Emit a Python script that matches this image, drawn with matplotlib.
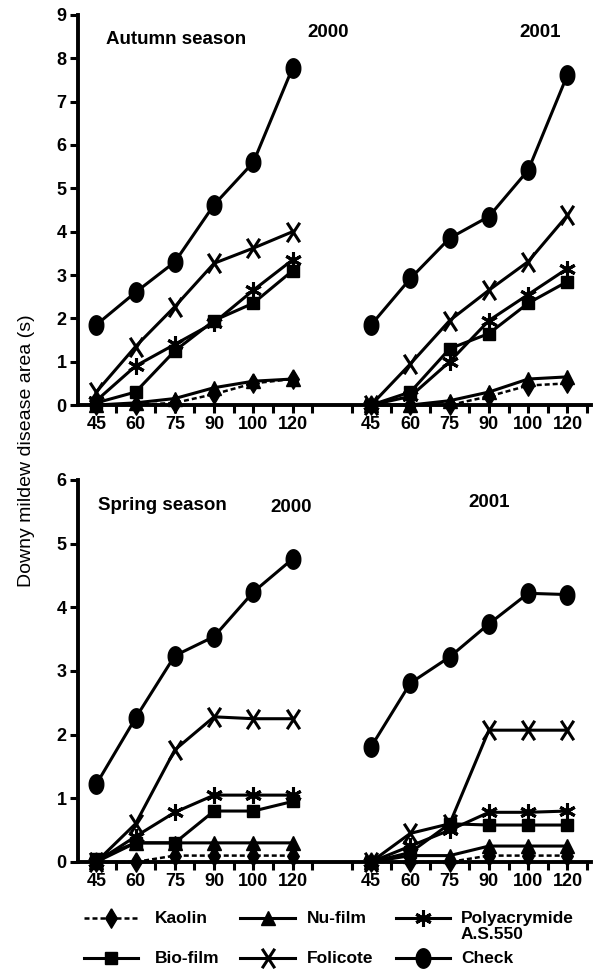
import numpy as np
import matplotlib
matplotlib.use("Agg")
import matplotlib.pyplot as plt
from matplotlib.path import Path
from matplotlib.lines import Line2D

plt.rcParams['font.family'] = ['Liberation Sans', 'DejaVu Sans']

# days after sowing (tick labels) and positions of the two year groups
days = ['45', '60', '75', '90', '100', '120']
pos_2000 = np.arange(6)
pos_2001 = np.arange(6) + 7

# autumn season
kaolin_a00 = [0, 0, 0.05, 0.25, 0.5, 0.6]
nufilm_a00 = [0, 0.05, 0.15, 0.4, 0.55, 0.6]
poly_a00 = [0.1, 0.9, 1.4, 1.9, 2.65, 3.35]
bio_a00 = [0.05, 0.3, 1.25, 1.95, 2.35, 3.1]
folicote_a00 = [0.3, 1.35, 2.27, 3.27, 3.62, 4.0]
check_a00 = [1.85, 2.6, 3.3, 4.62, 5.6, 7.78]

kaolin_a01 = [0, 0, 0, 0.2, 0.45, 0.5]
nufilm_a01 = [0, 0, 0.1, 0.3, 0.6, 0.65]
poly_a01 = [0, 0.2, 1.0, 1.95, 2.55, 3.15]
bio_a01 = [0, 0.3, 1.3, 1.65, 2.35, 2.85]
folicote_a01 = [0, 0.95, 1.95, 2.65, 3.31, 4.38]
check_a01 = [1.85, 2.92, 3.85, 4.35, 5.42, 7.62]

# spring season
kaolin_s00 = [0, 0, 0.1, 0.1, 0.1, 0.1]
nufilm_s00 = [0, 0.3, 0.3, 0.3, 0.3, 0.3]
poly_s00 = [0, 0.4, 0.78, 1.05, 1.05, 1.05]
bio_s00 = [0.05, 0.3, 0.3, 0.8, 0.8, 0.95]
folicote_s00 = [0, 0.6, 1.76, 2.28, 2.25, 2.25]
check_s00 = [1.22, 2.26, 3.24, 3.54, 4.24, 4.76]

kaolin_s01 = [0, 0, 0, 0.1, 0.1, 0.1]
nufilm_s01 = [0, 0.1, 0.1, 0.25, 0.25, 0.25]
poly_s01 = [0, 0.25, 0.5, 0.78, 0.78, 0.8]
bio_s01 = [0, 0.15, 0.6, 0.58, 0.58, 0.58]
folicote_s01 = [0, 0.45, 0.6, 2.07, 2.07, 2.07]
check_s01 = [1.81, 2.81, 3.22, 3.74, 4.22, 4.2]

# marker shapes
t = np.linspace(0, 2 * np.pi, 40)
ellipse = np.column_stack([0.75 * np.cos(t), np.sin(t)])
diamond = np.array([(0, 1), (0.6, 0), (0, -1), (-0.6, 0), (0, 1)])
tall_x = Path([(-0.65, -1), (0.65, 1), (-0.65, 1), (0.65, -1)],
              [Path.MOVETO, Path.LINETO, Path.MOVETO, Path.LINETO])

styles = {
    'Kaolin': dict(marker=diamond, ms=14, ls=(0, (2.0, 1.2)), lw=1.8),
    'Nu-film': dict(marker='^', ms=10.5, ls='-', lw=2.2),
    'Polyacrymide\nA.S.550': dict(marker=(6, 2, 0), ms=12, mew=2.2, ls='-', lw=2.2),
    'Bio-film': dict(marker='s', ms=9, ls='-', lw=2.2),
    'Folicote': dict(marker=tall_x, ms=14, mew=2.2, mfc='none', ls='-', lw=2.2),
    'Check': dict(marker=ellipse, ms=14, ls='-', lw=2.2),
}
names = list(styles)

fig = plt.figure(figsize=(5.94, 9.72), dpi=100)
ax1 = fig.add_axes([0.131, 0.5833, 0.864, 0.4013])
ax2 = fig.add_axes([0.131, 0.1132, 0.864, 0.3930])

top = {2000: [kaolin_a00, nufilm_a00, poly_a00, bio_a00, folicote_a00, check_a00],
       2001: [kaolin_a01, nufilm_a01, poly_a01, bio_a01, folicote_a01, check_a01]}
bottom = {2000: [kaolin_s00, nufilm_s00, poly_s00, bio_s00, folicote_s00, check_s00],
          2001: [kaolin_s01, nufilm_s01, poly_s01, bio_s01, folicote_s01, check_s01]}

for ax, data, ymax in [(ax1, top, 9), (ax2, bottom, 6)]:
    for year, xpos in [(2000, pos_2000), (2001, pos_2001)]:
        for name, vals in zip(names, data[year]):
            st = dict(styles[name])
            mfc = st.pop('mfc', 'black')
            ax.plot(xpos, vals, color='black', mec='black', mfc=mfc,
                    clip_on=False, zorder=3, **st)
    ax.set_xlim(-0.47, 12.6)
    ax.set_ylim(0, ymax)
    ax.set_yticks(range(ymax + 1))
    ax.set_xticks(list(pos_2000) + list(pos_2001))
    ax.set_xticklabels(days + days)
    ax.set_xticks(list(np.arange(0.5, 6, 1)) + list(np.arange(6.5, 13, 1)), minor=True)
    for s in ['top', 'right']:
        ax.spines[s].set_visible(False)
    for s in ['left', 'bottom']:
        ax.spines[s].set_linewidth(2.8)
    ax.tick_params(which='both', direction='out', width=2.2, length=6, labelsize=13, pad=2)
    for lab in ax.get_xticklabels() + ax.get_yticklabels():
        lab.set_fontweight('bold')

ax1.text(0.25, 8.43, 'Autumn season', fontsize=13.5, fontweight='bold', va='center')
ax1.text(5.9, 8.6, '2000', fontsize=13.5, fontweight='bold', ha='center', va='center')
ax1.text(11.3, 8.6, '2001', fontsize=13.5, fontweight='bold', ha='center', va='center')
ax2.text(0.05, 5.6, 'Spring season', fontsize=13.5, fontweight='bold', va='center')
ax2.text(4.96, 5.57, '2000', fontsize=13.5, fontweight='bold', ha='center', va='center')
ax2.text(10.0, 5.64, '2001', fontsize=13.5, fontweight='bold', ha='center', va='center')

fig.text(0.045, 0.536, 'Downy mildew disease area (s)', rotation=90,
         fontsize=14, ha='center', va='center')

# legend drawn by hand: two rows of three entries
W, H = 594.0, 972.0
rows = [918, 958]
cols = [(84, 138, 155), (240, 295, 307), (396, 450, 461)]
order = [['Kaolin', 'Nu-film', 'Polyacrymide\nA.S.550'],
         ['Bio-film', 'Folicote', 'Check']]
for r, row_names in enumerate(order):
    y = 1 - rows[r] / H
    for c, name in enumerate(row_names):
        x0, x1, xt = cols[c]
        st = dict(styles[name])
        mfc = st.pop('mfc', 'black')
        ln = Line2D([x0 / W, (x0 + x1) / 2 / W, x1 / W], [y, y, y],
                    transform=fig.transFigure, color='black', mec='black', mfc=mfc,
                    markevery=[1], **st)
        fig.add_artist(ln)
        if '\n' in name:
            first, second = name.split('\n')
            fig.text(xt / W, y, first, fontsize=12.5, fontweight='bold', va='center')
            fig.text(xt / W, y - 16 / H, second, fontsize=12.5, fontweight='bold', va='center')
        else:
            fig.text(xt / W, y, name, fontsize=12.5, fontweight='bold', va='center')

fig.savefig('out.png', dpi=100)
